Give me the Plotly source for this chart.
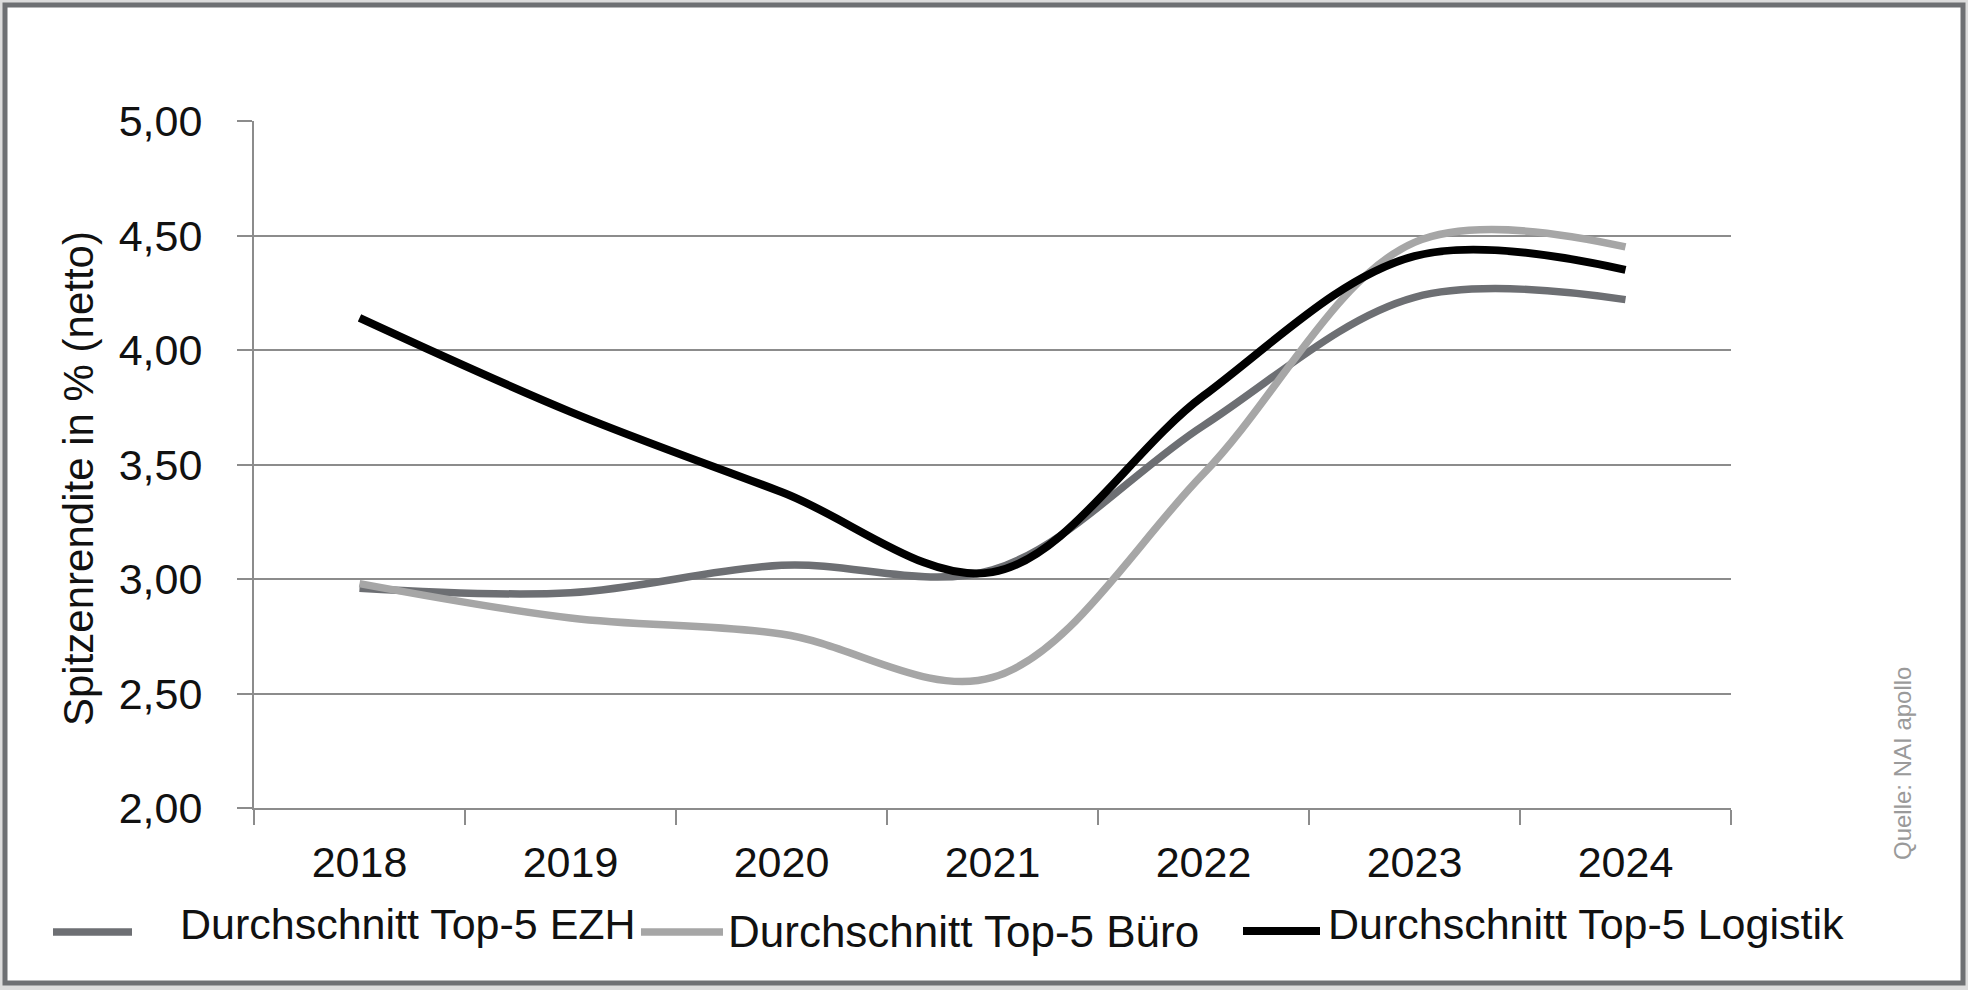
import plotly.graph_objects as go

# ---- data ----
years = ["2018", "2019", "2020", "2021", "2022", "2023", "2024"]
ezh = [2.96, 2.94, 3.06, 3.04, 3.67, 4.23, 4.22]
buero = [2.98, 2.83, 2.76, 2.57, 3.46, 4.47, 4.45]
logistik = [4.14, 3.73, 3.38, 3.03, 3.80, 4.41, 4.35]
series_names = ["Durchschnitt Top-5 EZH", "Durchschnitt Top-5 Büro", "Durchschnitt Top-5 Logistik"]
y_title = "Spitzenrendite in % (netto)"
source = "Quelle: NAI apollo"

colors = ["#6d6f73", "#a6a6a6", "#000000"]
widths = [7.5, 7.5, 8]

W, H = 1968, 990
L, R, T, B = 254, 237, 121, 182
PW, PH = W - L - R, H - T - B


def px(x):
    return (x - L) / PW


def py(y):
    return (H - B - y) / PH


FONT = "Liberation Sans, Arial, sans-serif"
GRID = "#8c8c8c"
TXT = "#111111"

fig = go.Figure()
for name, vals, c, w in zip(series_names, [ezh, buero, logistik], colors, widths):
    fig.add_trace(go.Scatter(
        x=years, y=vals, name=name, mode="lines",
        line=dict(color=c, width=w, shape="spline", smoothing=1.0),
        showlegend=False, hoverinfo="x+y+name",
    ))

shapes = [
    dict(type="rect", xref="paper", yref="paper",
         x0=px(5), x1=px(1963), y0=py(983), y1=py(5),
         line=dict(color="#6e7073", width=5), fillcolor="white", layer="below"),
]

# manual legend
legend_items = [
    (53, 132, 932, 178, 924),
    (641, 723, 932, 726, 931),
    (1243, 1320, 931, 1326, 924),
]
legend_sizes = [43, 44, 43]
annotations = []
for (x0, x1, ly, tx, ty), name, c, w, fs in zip(legend_items, series_names, colors, widths, legend_sizes):
    shapes.append(dict(type="line", xref="paper", yref="paper",
                       x0=px(x0), x1=px(x1), y0=py(ly), y1=py(ly),
                       line=dict(color=c, width=w)))
    annotations.append(dict(text=name, xref="paper", yref="paper",
                            x=px(tx), y=py(ty), xanchor="left", yanchor="middle",
                            showarrow=False, font=dict(family=FONT, size=fs, color=TXT)))

annotations.append(dict(text=y_title, xref="paper", yref="paper", x=px(78), y=py(479),
                        xanchor="center", yanchor="middle", textangle=-90, showarrow=False,
                        font=dict(family=FONT, size=42, color=TXT)))
annotations.append(dict(text=source, xref="paper", yref="paper", x=px(1902), y=py(763),
                        xanchor="center", yanchor="middle", textangle=-90, showarrow=False,
                        font=dict(family=FONT, size=24, color="#9a9a9a")))

fig.update_layout(
    width=W, height=H,
    margin=dict(l=L, r=R, t=T, b=B, pad=0),
    paper_bgcolor="#dcdcdc",
    plot_bgcolor="rgba(0,0,0,0)",
    separators=",.",
    shapes=shapes,
    annotations=annotations,
    showlegend=False,
    font=dict(family=FONT, size=43, color=TXT),
    xaxis=dict(
        type="category", range=[-0.5, 6.5], tickson="boundaries",
        ticks="outside", ticklen=15, tickwidth=2, tickcolor=GRID,
        showline=True, linecolor=GRID, linewidth=2, showgrid=False, zeroline=False,
        tickfont=dict(family=FONT, size=43, color=TXT),
        ticklabelstandoff=15,
    ),
    yaxis=dict(
        range=[2, 5], dtick=0.5, tick0=2, tickformat=".2f",
        ticks="outside", ticklen=15, tickwidth=2, tickcolor=GRID,
        showline=True, linecolor=GRID, linewidth=2,
        showgrid=True, gridcolor=GRID, gridwidth=2, zeroline=False,
        tickfont=dict(family=FONT, size=43, color=TXT),
        ticklabelstandoff=26,
    ),
)

fig.write_html(
    "out.html",
    config={"displayModeBar": False},
    post_script="document.body.style.margin='0';document.body.style.padding='0';document.body.style.overflow='hidden';",
)
